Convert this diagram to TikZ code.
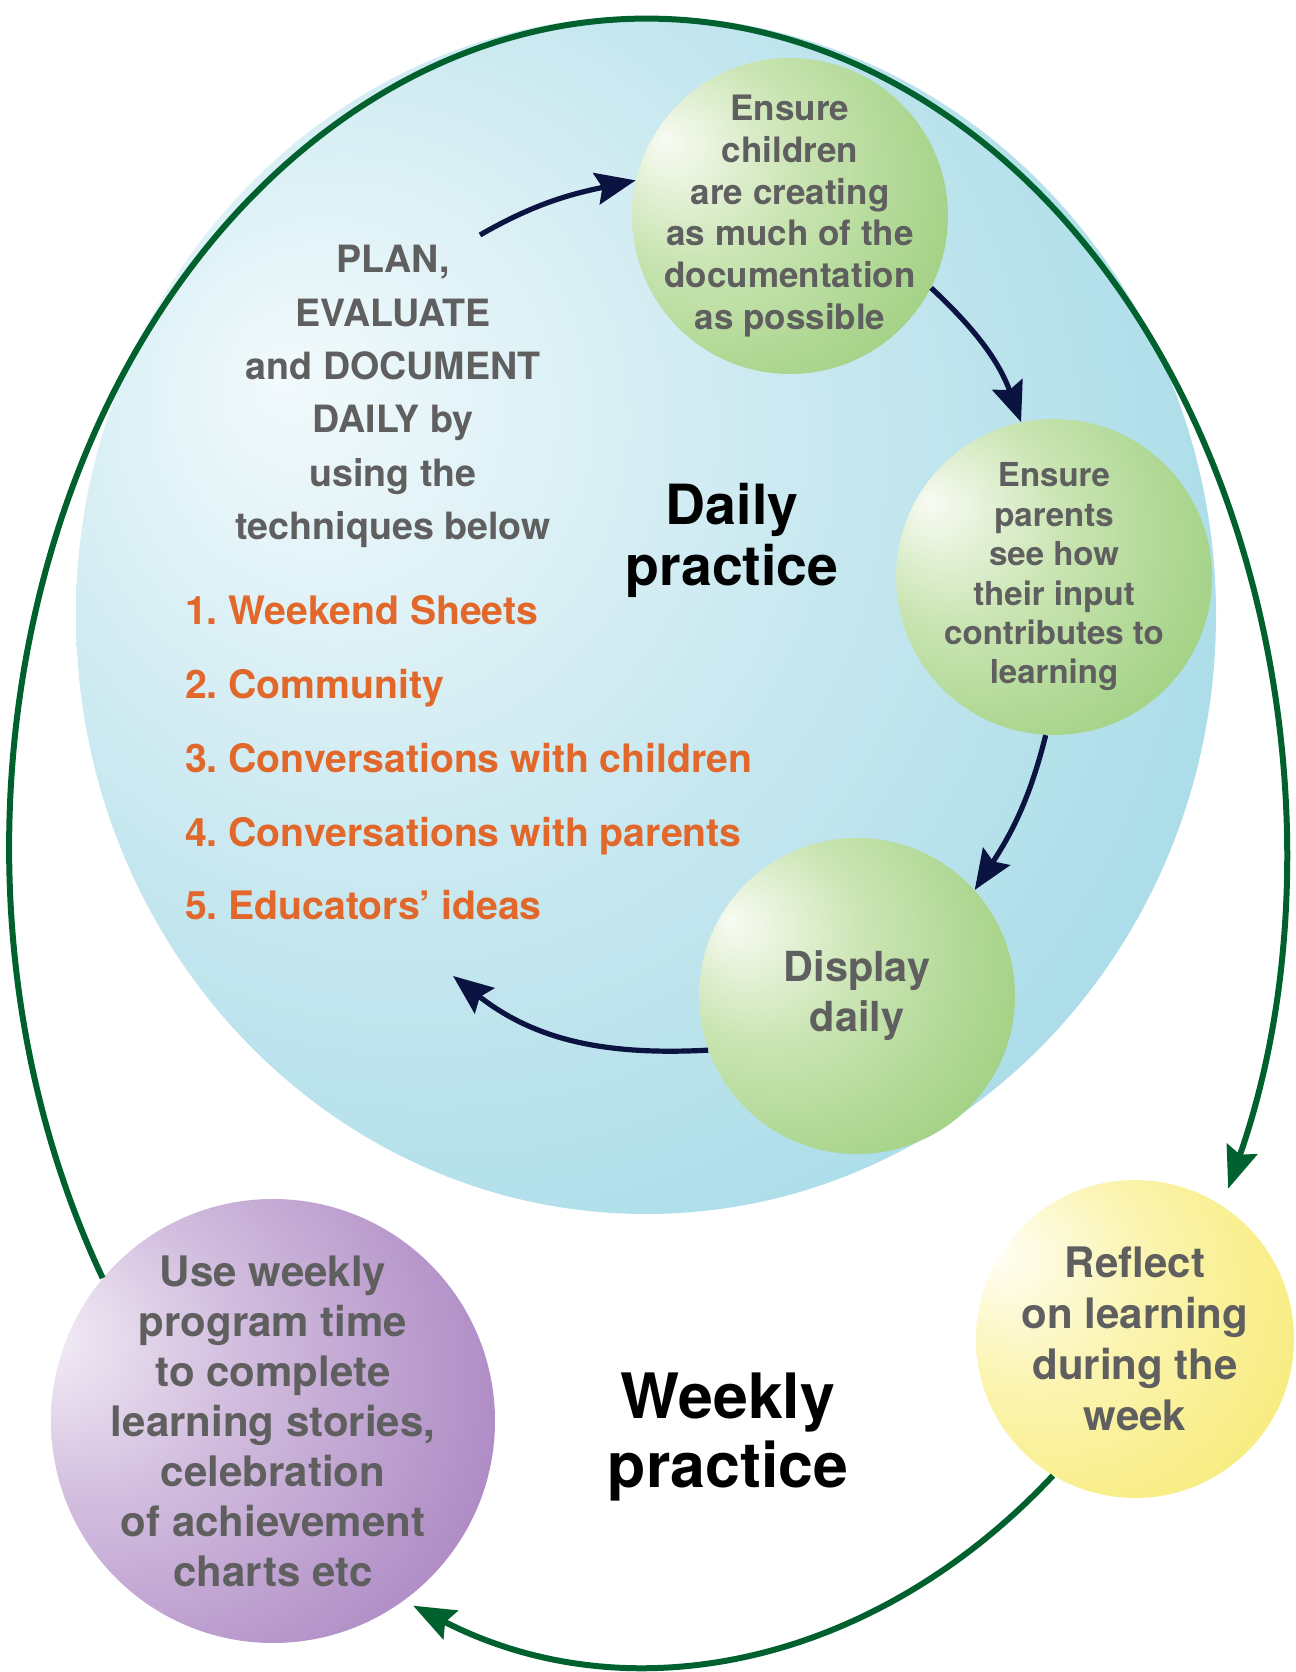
\documentclass[tikz,border=0pt]{standalone}
\usepackage{fontspec}
\setmainfont{TeX Gyre Heros}
\usetikzlibrary{arrows.meta}

\definecolor{navyline}{HTML}{0B1340}
\definecolor{loopgreen}{HTML}{00612F}
\definecolor{textgrey}{HTML}{5F5F5F}
\definecolor{listorange}{HTML}{E2672A}
\definecolor{blueA}{HTML}{F2FAFC}
\definecolor{blueB}{HTML}{C6E7EF}
\definecolor{blueC}{HTML}{98D6E4}
\definecolor{blueD}{HTML}{80CEDE}
\definecolor{greenA}{HTML}{F8FBF3}
\definecolor{greenB}{HTML}{CBE5B4}
\definecolor{greenC}{HTML}{9BCE7C}
\definecolor{greenD}{HTML}{7CBF5A}
\definecolor{yellowA}{HTML}{FFFEF4}
\definecolor{yellowB}{HTML}{FBF4B0}
\definecolor{yellowC}{HTML}{F7EA70}
\definecolor{yellowD}{HTML}{F2E23A}
\definecolor{purpleA}{HTML}{F4EFF7}
\definecolor{purpleB}{HTML}{D3BFDF}
\definecolor{purpleC}{HTML}{A983C1}
\definecolor{purpleD}{HTML}{8852A0}

\pgfdeclareradialshading{dailyshade}{\pgfpoint{-16bp}{10bp}}{color(0bp)=(blueA); color(20bp)=(blueB); color(44bp)=(blueC); color(64bp)=(blueD)}
\pgfdeclareradialshading{greenball}{\pgfpoint{-20bp}{12bp}}{color(0bp)=(greenA); color(16bp)=(greenB); color(40bp)=(greenC); color(66bp)=(greenD)}
\pgfdeclareradialshading{yellowball}{\pgfpoint{-22bp}{14bp}}{color(0bp)=(yellowA); color(18bp)=(yellowB); color(44bp)=(yellowC); color(68bp)=(yellowD)}
\pgfdeclareradialshading{purpleball}{\pgfpoint{-27bp}{10bp}}{color(0bp)=(purpleA); color(16bp)=(purpleB); color(42bp)=(purpleC); color(70bp)=(purpleD)}

\tikzset{
  daily ball/.style={circle, minimum size=158pt, inner sep=0pt, shade, shading=greenball},
  ball text/.style={text=textgrey, align=center},
  navy arrow/.style={draw=navyline, line width=2.6pt,
    -{Stealth[length=20pt, width=16pt, inset=3pt]}},
  loop arrow/.style={draw=loopgreen, line width=3pt,
    -{Stealth[length=21pt, width=16pt, inset=3pt]}}
}

\begin{document}
\frenchspacing
\begin{tikzpicture}[x=0.5pt, y=0.5pt]
  \useasboundingbox (0,0) rectangle (1296,1672);

  \shade[shading=dailyshade] (646,1057) ellipse [x radius=570, y radius=599];

  \node[daily ball] (children) at (790,1456) {};
  \node[daily ball] (parents) at (1054,1095) {};
  \node[daily ball] (display) at (857,676) {};
  \node[daily ball, minimum size=159pt, shading=yellowball] (reflect) at (1135,333) {};
  \node[daily ball, minimum size=222pt, shading=purpleball] (stories) at (273,251) {};

  \node[ball text, font=\fontsize{17.5}{20.9}\selectfont\bfseries] (children-text) at (children)
    {Ensure\\children\\are creating\\as much of the\\documentation\\as possible};
  \node[ball text, font=\fontsize{16.5}{19.7}\selectfont\bfseries] (parents-text) at (parents)
    {Ensure\\parents\\see how\\their input\\contributes to\\learning};
  \node[ball text, font=\fontsize{20.7}{25}\selectfont\bfseries] (display-text) at (display)
    {Display\\daily};
  \node[ball text, font=\fontsize{21}{25.4}\selectfont\bfseries] (reflect-text) at (reflect)
    {Reflect\\on learning\\during the\\week};
  \node[ball text, font=\fontsize{21}{25}\selectfont\bfseries] (stories-text) at (stories)
    {Use weekly\\program time\\to complete\\learning stories,\\celebration\\of achievement\\charts etc};

  \foreach \l [count=\i] in {{PLAN,}, EVALUATE, and DOCUMENT, DAILY by, using the, techniques below}
    \node[anchor=base, text=textgrey, font=\fontsize{18.8}{22}\selectfont\bfseries]
      (plan-\i) at (393, 1399-53.3*\i+53.3) {\l};
  \foreach \l [count=\i] in {Weekend Sheets, Community, Conversations with children,
      Conversations with parents, Educators’ ideas}
    \node[anchor=base west, text=listorange, font=\fontsize{19.6}{22}\selectfont\bfseries]
      (technique-\i) at (178, 1047-73.7*\i+73.7) {\i. \l};

  \node[align=center, font=\fontsize{27.7}{30.5}\selectfont\bfseries] (daily) at (732,1132)
    {Daily\\practice};
  \node[align=center, font=\fontsize{31.3}{34.5}\selectfont\bfseries] (weekly) at (728,235)
    {Weekly\\practice};

  \coordinate (planstart) at (480,1437);
  \coordinate (planend) at (453,696);
  \draw[navy arrow] (planstart) to[out=30, in=192] (children.167);
  \draw[navy arrow] (children.333) to[out=-43, in=110] (parents.102);
  \draw[navy arrow] (parents.267) to[out=-104, in=57] (display.42);
  \draw[navy arrow] (display.200) to[out=183, in=-38] (planend);

  \draw[loop arrow] (stories.140) arc [start angle=211.4, end angle=-24.4, x radius=638, y radius=828];
  \draw[loop arrow] (reflect.239) arc [start angle=-50.6, end angle=-111.6, x radius=638, y radius=828];
\end{tikzpicture}
\end{document}
